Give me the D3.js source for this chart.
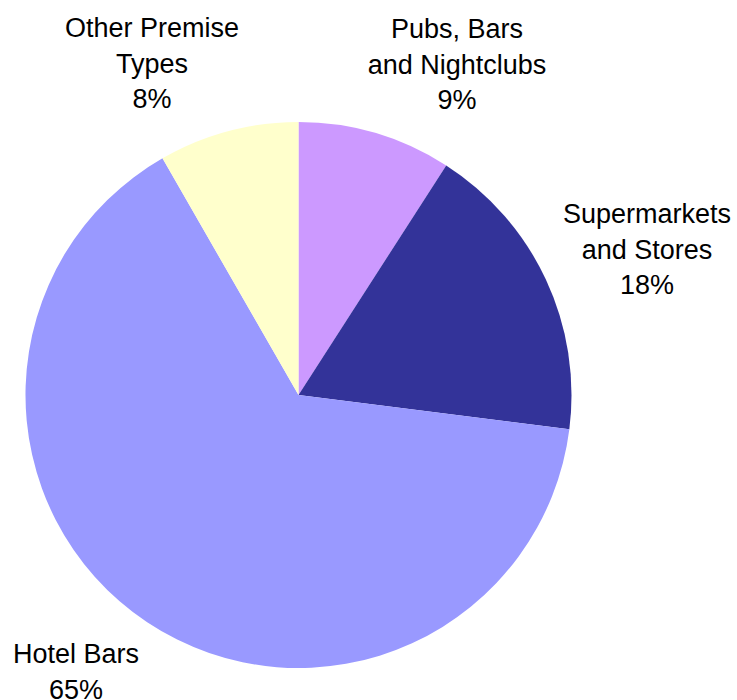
<!DOCTYPE html>
<html>
<head>
<meta charset="utf-8">
<script src="https://cdn.jsdelivr.net/npm/d3@7"></script>
<style>
  body { margin: 0; background: #fff; }
  text { font-family: "Liberation Sans", Arial, sans-serif; font-size: 27px; fill: #000; }
</style>
</head>
<body>
<svg id="chart" width="737" height="700"></svg>
<script>
// data
const categories = ["Pubs, Bars\nand Nightclubs", "Supermarkets\nand Stores", "Hotel Bars", "Other Premise\nTypes"];
const values = [9.1, 17.9, 64.7, 8.3];
const colors = ["#cc99ff", "#333399", "#9999ff", "#ffffcc"];

// label block centres (x, first baseline), placed like the original
const labelPos = [[457, 38], [647, 223], [76, 663], [152, 37]];
const lineGap = 35.5;

const svg = d3.select("#chart"),
    cx = 298.5, cy = 395, radius = 273;

const g = svg.append("g").attr("transform", "translate(" + cx + "," + cy + ")");

const pie = d3.pie().sort(null).value(d => d);
const arc = d3.arc().innerRadius(0).outerRadius(radius);
const total = d3.sum(values);

g.selectAll("path")
  .data(pie(values))
  .enter().append("path")
    .attr("fill", (d, i) => colors[i])
    .attr("d", arc);

// labels
const labels = svg.selectAll("text.lbl")
  .data(categories)
  .enter().append("text")
    .attr("class", "lbl")
    .attr("text-anchor", "middle")
    .attr("transform", (d, i) => "translate(" + labelPos[i][0] + "," + labelPos[i][1] + ")");

labels.each(function(d, i) {
  const lines = d.split("\n").concat([Math.round(values[i] / total * 100) + "%"]);
  d3.select(this).selectAll("tspan")
    .data(lines)
    .enter().append("tspan")
      .attr("x", 0)
      .attr("y", (t, j) => j * lineGap)
      .text(t => t);
});
</script>
</body>
</html>
